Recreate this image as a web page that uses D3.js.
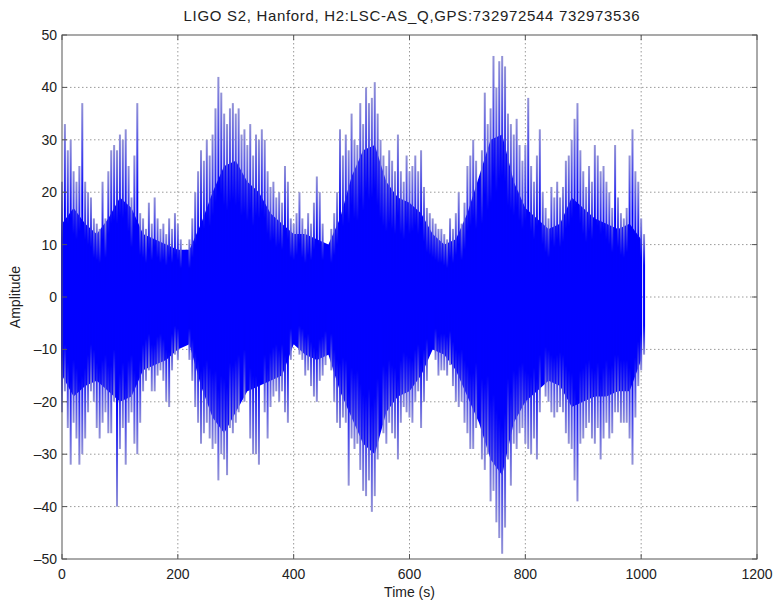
<!DOCTYPE html>
<html>
<head>
<meta charset="utf-8">
<script src="https://cdn.jsdelivr.net/npm/d3@7"></script>
<style>
    body { margin: 0; background: #fff; }
    text { font-family: "Liberation Sans", Arial, sans-serif; fill: #222; }
</style>
</head>
<body>
<div class="vis-ligo"></div>
<script>
// time axis of the trace (s), one spike every 5 s
const spikeTimes = d3.range(0, 1010, 5);
// highest excursion in each 5 s slot
const upperPeak = [
    22, 33, 28, 30, 24, 22, 25, 37, 22, 20,
    19, 15, 14, 13, 22, 15, 24, 28, 29, 28,
    31, 30, 32, 25, 19, 27, 37, 16, 15, 13,
    18, 14, 19, 15, 13, 14, 12, 15, 13, 16,
    14, 11, 8, 9, 11, 15, 20, 24, 28, 26,
    30, 27, 31, 36, 42, 39, 35, 33, 36, 37,
    35, 36, 31, 32, 29, 33, 27, 31, 30, 32,
    30, 24, 21, 22, 19, 20, 18, 25, 22, 15,
    14, 16, 20, 15, 13, 16, 14, 18, 23, 20,
    14, 10, 9, 13, 16, 20, 32, 27, 31, 28,
    35, 30, 29, 37, 33, 40, 37, 38, 41, 35,
    30, 27, 25, 28, 26, 24, 31, 24, 22, 27,
    24, 25, 27, 24, 28, 21, 17, 16, 15, 14,
    13, 13, 12, 11, 15, 13, 16, 20, 14, 18,
    25, 27, 30, 26, 22, 28, 39, 33, 36, 46,
    40, 45, 46, 44, 35, 33, 31, 34, 29, 26,
    29, 38, 25, 22, 27, 32, 20, 17, 15, 21,
    19, 22, 19, 21, 26, 27, 30, 34, 37, 28,
    24, 21, 25, 22, 29, 27, 24, 25, 22, 20,
    17, 29, 19, 16, 15, 17, 27, 32, 24, 22,
    15, 12
];
// lowest excursion in each 5 s slot
const lowerPeak = [
    -22, -18, -25, -32, -24, -27, -32, -30, -27, -22,
    -18, -20, -25, -27, -24, -22, -26, -26, -20, -40,
    -29, -25, -32, -24, -22, -28, -30, -24, -18, -16,
    -14, -18, -18, -15, -14, -16, -20, -21, -14, -11,
    -12, -8, -6, -9, -12, -16, -21, -24, -28, -26,
    -24, -27, -29, -28, -35, -30, -31, -34, -25, -26,
    -24, -22, -18, -20, -14, -27, -30, -30, -32, -16,
    -22, -27, -21, -19, -18, -20, -18, -22, -24, -12,
    -7, -9, -11, -12, -15, -14, -17, -19, -20, -16,
    -15, -13, -10, -14, -20, -24, -25, -23, -24, -36,
    -27, -29, -28, -33, -37, -38, -35, -41, -38, -31,
    -10, -26, -28, -24, -26, -27, -31, -24, -21, -22,
    -23, -24, -20, -18, -25, -20, -16, -8, -10, -12,
    -15, -14, -14, -15, -13, -17, -20, -21, -20, -24,
    -26, -29, -29, -25, -22, -31, -33, -30, -39, -37,
    -43, -46, -49, -44, -31, -36, -28, -29, -26, -25,
    -28, -29, -30, -27, -31, -22, -8, -19, -20, -22,
    -23, -22, -21, -22, -26, -28, -29, -35, -39, -28,
    -27, -25, -24, -27, -28, -25, -31, -27, -24, -27,
    -26, -22, -22, -24, -24, -24, -27, -32, -23, -17,
    -14, -11
];
// dense (solid) part of the trace, every 20 s
const coreTimes = d3.range(0, 1001, 20);
const coreUpper = [
    14, 17, 14, 12, 15, 19, 17, 12, 11, 10,
    9, 9, 14, 20, 25, 26, 22, 20, 16, 14,
    12, 12, 11, 10, 15, 23, 28, 29, 22, 19,
    18, 16, 12, 10, 11, 16, 23, 30, 31, 22,
    17, 15, 13, 14, 19, 17, 15, 14, 13, 14,
    11
];
const coreLower = [
    -15, -19, -17, -16, -18, -20, -19, -14, -13, -12,
    -10, -9, -17, -23, -26, -22, -18, -17, -16, -15,
    -9, -11, -12, -11, -18, -23, -28, -30, -22, -19,
    -18, -15, -10, -11, -14, -19, -24, -31, -34, -24,
    -20, -18, -16, -17, -21, -20, -19, -19, -18, -18,
    -12
];
const xTicks = [0, 200, 400, 600, 800, 1000, 1200];
const yTicks = [-50, -40, -30, -20, -10, 0, 10, 20, 30, 40, 50];

const W = 779, H = 603;
const margin = { top: 35, right: 22, bottom: 44, left: 62 };
const width = W - margin.left - margin.right;
const height = H - margin.top - margin.bottom;

const svg = d3.select('.vis-ligo')
    .append('svg')
    .attr('width', W)
    .attr('height', H);

const defs = svg.append('defs');
function grad(id, y1, y2) {
    let g = defs.append('linearGradient')
        .attr('id', id)
        .attr('x1', 0).attr('x2', 0)
        .attr('y1', y1).attr('y2', y2);
    g.append('stop').attr('offset', 0).attr('stop-color', '#0000ff');
    g.append('stop').attr('offset', 0.5).attr('stop-color', '#0000fc');
    g.append('stop').attr('offset', 1).attr('stop-color', '#9494d6');
}
grad('gUp', 1, 0);
grad('gDown', 0, 1);

const g = svg.append('g')
    .attr('transform', 'translate(' + margin.left + ',' + margin.top + ')');

const x = d3.scaleLinear().domain([0, 1200]).range([0, width]);
const y = d3.scaleLinear().domain([-50, 50]).range([height, 0]);

// grid
g.append('g').selectAll('line')
    .data(xTicks.slice(1, -1))
    .enter().append('line')
    .attr('x1', d => x(d)).attr('x2', d => x(d))
    .attr('y1', 0).attr('y2', height)
    .attr('stroke', '#9a9a9a').attr('stroke-dasharray', '1.5,2.5');
g.append('g').selectAll('line')
    .data(yTicks.slice(1, -1))
    .enter().append('line')
    .attr('y1', d => y(d)).attr('y2', d => y(d))
    .attr('x1', 0).attr('x2', width)
    .attr('stroke', '#9a9a9a').attr('stroke-dasharray', '1.5,2.5');

// solid core
const core = coreTimes.map((t, i) => ({ t: t, hi: coreUpper[i], lo: coreLower[i] }));
g.append('path')
    .datum(core)
    .attr('fill', '#0000ff')
    .attr('d', d3.area()
        .x(d => x(d.t))
        .y0(d => y(d.lo))
        .y1(d => y(d.hi)));

// core edge at a spike's time, only used to decide the spike's fill
const coreAt = (arr, t) => {
    let i = Math.min(Math.floor(t / 20), arr.length - 2);
    let f = (t - coreTimes[i]) / 20;
    return arr[i] + (arr[i + 1] - arr[i]) * f;
};

// spikes
const bw = 2.0;
g.append('g').selectAll('rect')
    .data(spikeTimes.map((t, i) => ({ t: t, v: upperPeak[i] })))
    .enter().append('rect')
    .attr('x', d => x(d.t) - bw / 2)
    .attr('width', bw)
    .attr('y', d => y(d.v))
    .attr('height', d => y(0) - y(d.v))
    .attr('fill', d => d.v <= coreAt(coreUpper, d.t) ? '#0000ff' : 'url(#gUp)');
g.append('g').selectAll('rect')
    .data(spikeTimes.map((t, i) => ({ t: t, v: lowerPeak[i] })))
    .enter().append('rect')
    .attr('x', d => x(d.t) - bw / 2)
    .attr('width', bw)
    .attr('y', y(0))
    .attr('height', d => y(d.v) - y(0))
    .attr('fill', d => d.v >= coreAt(coreLower, d.t) ? '#0000ff' : 'url(#gDown)');

// axes (MATLAB box with inward ticks)
const axisColor = '#555';
g.append('rect')
    .attr('width', width).attr('height', height)
    .attr('fill', 'none').attr('stroke', axisColor).attr('stroke-width', 1);
const tl = 5;
xTicks.forEach(v => {
    g.append('line').attr('x1', x(v)).attr('x2', x(v)).attr('y1', height).attr('y2', height - tl).attr('stroke', axisColor);
    g.append('line').attr('x1', x(v)).attr('x2', x(v)).attr('y1', 0).attr('y2', tl).attr('stroke', axisColor);
});
yTicks.forEach(v => {
    g.append('line').attr('y1', y(v)).attr('y2', y(v)).attr('x1', 0).attr('x2', tl).attr('stroke', axisColor);
    g.append('line').attr('y1', y(v)).attr('y2', y(v)).attr('x1', width).attr('x2', width - tl).attr('stroke', axisColor);
});

g.append('g').selectAll('text')
    .data(xTicks)
    .enter().append('text')
    .attr('x', d => x(d))
    .attr('y', height + 20)
    .attr('text-anchor', 'middle')
    .attr('font-size', '14px')
    .text(d => d);
g.append('g').selectAll('text')
    .data(yTicks)
    .enter().append('text')
    .attr('x', -5)
    .attr('y', d => y(d) + 5)
    .attr('text-anchor', 'end')
    .attr('font-size', '14px')
    .text(d => d < 0 ? '\u2013' + Math.abs(d) : d);

// labels
g.append('text')
    .attr('x', width / 2)
    .attr('y', height + 38)
    .attr('text-anchor', 'middle')
    .attr('font-size', '14px')
    .text('Time (s)');
g.append('text')
    .attr('transform', 'translate(-42,' + (height / 2) + ') rotate(-90)')
    .attr('text-anchor', 'middle')
    .attr('font-size', '14px')
    .text('Amplitude');
g.append('text')
    .attr('x', width / 2 + 2)
    .attr('y', -14)
    .attr('text-anchor', 'middle')
    .attr('font-size', '15px')
    .attr('textLength', 456)
    .attr('lengthAdjust', 'spacing')
    .text('LIGO S2, Hanford, H2:LSC-AS_Q,GPS:732972544 732973536');
</script>
</body>
</html>
